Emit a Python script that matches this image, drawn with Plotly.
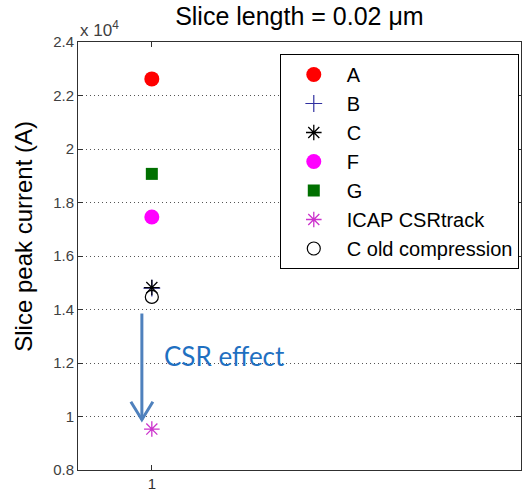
import plotly.graph_objects as go

# Data (peak current in A)
series_names = ["A", "B", "C", "F", "G", "ICAP CSRtrack", "C old compression"]
x_vals = [1, 1, 1, 1, 1, 1, 1]
peak_current = [22620, 14800, 14820, 17460, 19070, 9530, 14470]
y_tick_vals = [8000, 10000, 12000, 14000, 16000, 18000, 20000, 22000, 24000]
y_tick_text = ["0.8", "1", "1.2", "1.4", "1.6", "1.8", "2", "2.2", "2.4"]
x_tick_vals = [1]
x_tick_text = ["1"]
arrow_x = 0.973
arrow_y_start = 13850
arrow_y_end = 9880

styles = {
    "A": dict(symbol="circle", color="#ff0000", size=15, line=dict(width=0)),
    "B": dict(symbol="cross-thin-open", color="#3030a0", size=12, line=dict(width=1.2, color="#3030a0")),
    "C": dict(symbol="asterisk-open", color="#000000", size=13, line=dict(width=1.3, color="#000000")),
    "F": dict(symbol="circle", color="#ff00ff", size=15, line=dict(width=0)),
    "G": dict(symbol="square", color="#007000", size=12, line=dict(width=0)),
    "ICAP CSRtrack": dict(symbol="asterisk-open", color="#cc33cc", size=13, line=dict(width=1.3, color="#cc33cc")),
    "C old compression": dict(symbol="circle-open", color="#000000", size=13, line=dict(width=1.2, color="#000000")),
}

fig = go.Figure()
for name, xv, yv in zip(series_names, x_vals, peak_current):
    fig.add_trace(go.Scatter(x=[xv], y=[yv], mode="markers", name=name, marker=styles[name]))

fig.update_layout(
    width=523, height=497,
    margin=dict(l=78, r=2, t=42, b=27),
    paper_bgcolor="white", plot_bgcolor="white",
    font=dict(family="Liberation Sans, Arial, sans-serif", color="#000000"),
    title=dict(text="Slice length = 0.02 \u03bcm", x=0.5725, xanchor="center", y=0.968, yanchor="middle",
               font=dict(size=25, color="#000000")),
    xaxis=dict(range=[0.8, 2.0], tickvals=x_tick_vals, ticktext=x_tick_text, ticks="inside", ticklen=5,
               showgrid=False, zeroline=False, showline=True, mirror="ticks", linecolor="#303030", linewidth=1,
               tickcolor="#303030", tickfont=dict(size=15, color="#303030")),
    yaxis=dict(range=[8000, 24000], tickvals=y_tick_vals, ticktext=y_tick_text, ticks="inside", ticklen=5,
               showgrid=True, gridcolor="#555555", griddash="1px,3px", gridwidth=1, zeroline=False,
               showline=True, mirror="ticks", linecolor="#303030", linewidth=1, tickcolor="#303030",
               tickfont=dict(size=15, color="#404040")),
    legend=dict(x=0.995, xanchor="right", y=0.972, yanchor="top", bordercolor="#000000", borderwidth=1,
                bgcolor="white", font=dict(size=20, color="#000000"), itemsizing="trace", itemwidth=56),
    showlegend=True,
)

# y-axis title placed as rotated text (slightly above centre, as in the reference)
fig.add_annotation(x=0, xref="paper", xshift=-54, y=0.545, yref="paper", text="Slice peak current (A)",
                   showarrow=False, textangle=-90, xanchor="center", yanchor="middle",
                   font=dict(size=24, color="#000000"))

fig.add_annotation(x=0, xref="paper", y=1.0, yref="paper", text="x 10<sup>4</sup>", showarrow=False,
                   xanchor="left", yanchor="bottom", yshift=0, font=dict(size=17, color="#404040"))

# CSR arrow: shaft plus open V head
arrow_color = "#4f81bd"
head_dx = 11 / 369.0          # half-width of head in x data units (~11 px)
head_dy = 18 / 267.5 * 10000  # head length in y data units (~18 px)
fig.add_shape(type="line", x0=arrow_x, x1=arrow_x, y0=arrow_y_start, y1=arrow_y_end, xref="x", yref="y",
              line=dict(color=arrow_color, width=3))
fig.add_shape(type="path", xref="x", yref="y",
              path=f"M {arrow_x - head_dx},{arrow_y_end + head_dy} L {arrow_x},{arrow_y_end} L {arrow_x + head_dx},{arrow_y_end + head_dy}",
              line=dict(color=arrow_color, width=3))

fig.add_annotation(x=1.027, y=12250, xref="x", yref="y", text="CSR effect", showarrow=False, xanchor="left",
                   yanchor="middle", font=dict(family="Lato, Open Sans, sans-serif", size=26, color="#1f70c1"))

fig.write_html("out.html")
